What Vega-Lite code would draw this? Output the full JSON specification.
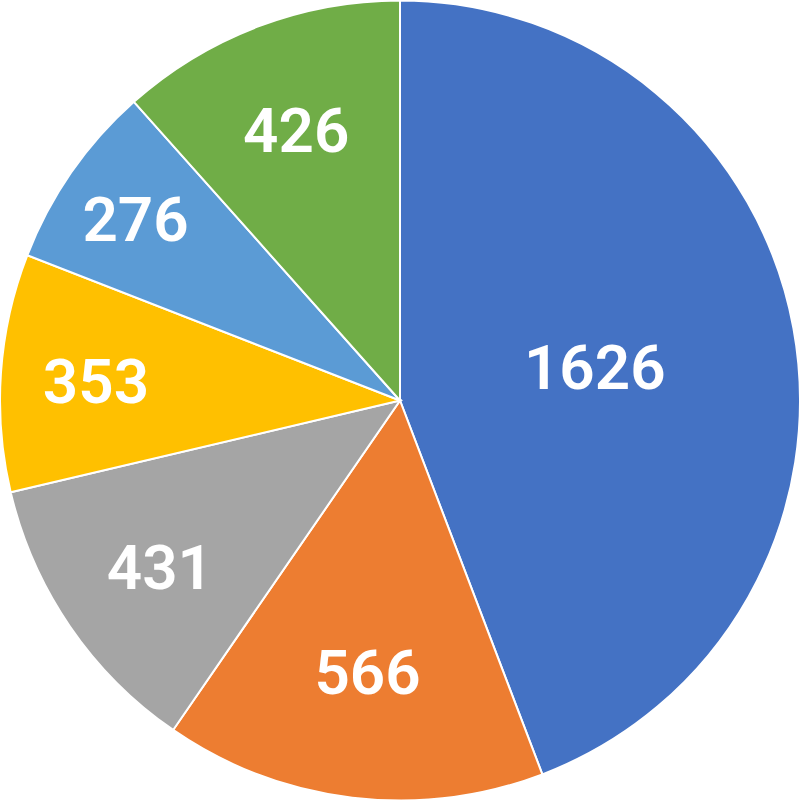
{
  "$schema": "https://vega.github.io/schema/vega-lite/v6.json",
  "width": 800,
  "height": 801,
  "autosize": {"type": "fit", "contains": "padding"},
  "padding": 0,
  "background": "white",
  "data": {"values": [
    {"cat": "A", "i": 1, "value": 1626},
    {"cat": "B", "i": 2, "value": 566},
    {"cat": "C", "i": 3, "value": 431},
    {"cat": "D", "i": 4, "value": 353},
    {"cat": "E", "i": 5, "value": 276},
    {"cat": "F", "i": 6, "value": 426}
  ]},
  "encoding": {
    "theta": {"field": "value", "type": "quantitative", "stack": true},
    "order": {"field": "i", "type": "quantitative"}
  },
  "layer": [
    {
      "mark": {"type": "arc", "outerRadius": 400, "stroke": "white", "strokeWidth": 2},
      "encoding": {
        "color": {"field": "cat", "type": "nominal", "legend": null,
          "scale": {"domain": ["A","B","C","D","E","F"], "range": ["#4472C4","#ED7D31","#A5A5A5","#FFC000","#5B9BD5","#70AD47"]}}
      }
    },
    {
      "mark": {"type": "text", "font": "Roboto", "fontWeight": 600, "fontSize": 62, "fill": "white", "baseline": "middle", "align": "center", "dy": 5},
      "encoding": {
        "text": {"field": "value", "type": "quantitative"},
        "radius": {"field": "value", "type": "quantitative", "scale": {"type": "log", "domain": [276, 1626], "range": [322, 198]}}
      }
    }
  ]
}
